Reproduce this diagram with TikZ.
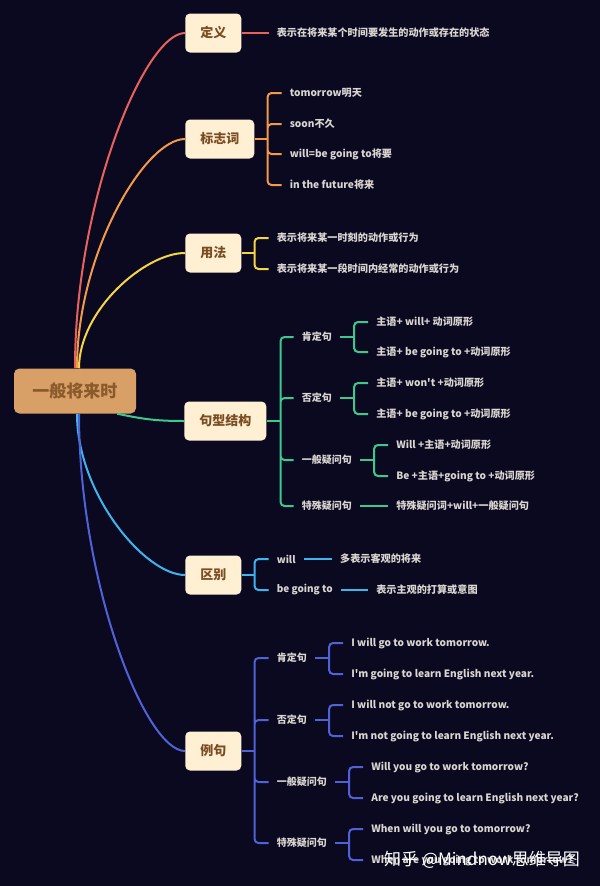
\documentclass[tikz,border=0pt]{standalone}
\usepackage{fontspec}
\setmainfont{Noto Sans CJK SC}[Ligatures=TeXOff]
\usepackage{xcolor}
\usetikzlibrary{calc}
\definecolor{bg}{HTML}{0A0920}
\definecolor{cred}{HTML}{E8615A}
\definecolor{corange}{HTML}{F2994A}
\definecolor{cyellow}{HTML}{F5D547}
\definecolor{cgreen}{HTML}{3DC98E}
\definecolor{ccyan}{HTML}{3FB4EE}
\definecolor{cblue}{HTML}{5062D8}
\definecolor{boxfill}{HTML}{FFF0D4}
\definecolor{boxtext}{HTML}{7A4C22}
\definecolor{rootfill}{HTML}{D8A066}
\definecolor{roottext}{HTML}{8A5A2C}
\definecolor{leaftext}{HTML}{DAD5D0}

\begin{document}
\begin{tikzpicture}[x=0.75pt,y=-0.75pt,
  rootbox/.style={fill=rootfill,rounded corners=4pt,minimum width=91.5pt,
    minimum height=33.75pt,text=roottext,font=\bfseries\fontsize{12.75}{14}\selectfont},
  topic/.style={fill=boxfill,rounded corners=3.5pt,anchor=west,minimum height=29.25pt,
    inner xsep=11.25pt,text=boxtext,font=\bfseries\fontsize{9.75}{11}\selectfont},
  leaf/.style={anchor=west,inner xsep=6pt,inner ysep=1pt,text=leaftext,
    font=\bfseries\fontsize{7.6}{9}\selectfont},
  sub/.style={leaf,font=\bfseries\fontsize{7.5}{9}\selectfont},
  curve/.style={draw=#1,line width=1.5pt},
  link/.style={draw=#1,line width=1.5pt,rounded corners=3pt}
]
\fill[bg] (0,0) rectangle (600,886);
\useasboundingbox (0,0) rectangle (600,886);

% centre and main topics
\node[rootbox] (root) at (75,391) {一般将来时};
\node[topic] (def) at (185,33) {定义};
\node[topic] (sign) at (185,139) {标志词};
\node[topic] (usage) at (185,253) {用法};
\node[topic] (struct) at (184,421) {句型结构};
\node[topic] (diff) at (185,575) {区别};
\node[topic] (ex) at (185,751) {例句};

\draw[curve=cred] (root.north) .. controls +(0,-168) and +(-40,0) .. (def.west);
\draw[curve=corange] ($(root.north)+(2,0)$) .. controls +(0,-115) and +(-40,0) .. (sign.west);
\draw[curve=cyellow] ($(root.north)+(4,0)$) .. controls +(0,-58) and +(-40,0) .. (usage.west);
\draw[curve=cgreen] ($(root.south east)+(-19,0)$) .. controls +(25,5) and +(-30,0) .. (struct.west);
\draw[curve=ccyan] ($(root.south)+(2,0)$) .. controls +(0,80) and +(-40,0) .. (diff.west);
\draw[curve=cblue] ($(root.south)+(4,0)$) .. controls +(0,168) and +(-40,0) .. (ex.west);

% 定义
\node[leaf] (def1) at ($(def.east)+(27,0)$) {表示在将来某个时间要发生的动作或存在的状态};
\draw[link=cred] (def.east) -- (def1.west);

% 标志词
\node[leaf] (sign1) at ($(sign.east)+(27,-46)$) {tomorrow明天};
\node[leaf] (sign2) at ($(sign.east)+(27,-15)$) {soon不久};
\node[leaf] (sign3) at ($(sign.east)+(27,15)$) {will=be going to将要};
\node[leaf] (sign4) at ($(sign.east)+(27,46)$) {in the future将来};
\coordinate (signt) at ($(sign.east)+(13,0)$);
\draw[link=corange] (sign.east) -- (signt);
\draw[link=corange] (signt) |- (sign1.west) (signt) |- (sign2.west)
  (signt) |- (sign3.west) (signt) |- (sign4.west);

% 用法
\node[leaf] (use1) at ($(usage.east)+(27,-15)$) {表示将来某一时刻的动作或行为};
\node[leaf] (use2) at ($(usage.east)+(27,16)$) {表示将来某一段时间内经常的动作或行为};
\coordinate (uset) at ($(usage.east)+(13,0)$);
\draw[link=cyellow] (usage.east) -- (uset);
\draw[link=cyellow] (uset) |- (use1.west) (uset) |- (use2.west);

% 句型结构
\node[sub] (spos) at ($(struct.east)+(27,-84)$) {肯定句};
\node[sub] (sneg) at ($(struct.east)+(27,-23)$) {否定句};
\node[sub] (sgen) at ($(struct.east)+(27,39)$) {一般疑问句};
\node[sub] (sspe) at ($(struct.east)+(27,85)$) {特殊疑问句};
\coordinate (structt) at ($(struct.east)+(14,0)$);
\draw[link=cgreen] (struct.east) -- (structt);
\draw[link=cgreen] (structt) |- (spos.west) (structt) |- (sneg.west)
  (structt) |- (sgen.west) (structt) |- (sspe.west);

\node[leaf] (spos1) at ($(spos.east)+(28,-15)$) {主语+ will+ 动词原形};
\node[leaf] (spos2) at ($(spos.east)+(28,15)$) {主语+ be going to +动词原形};
\coordinate (spost) at ($(spos.east)+(14,0)$);
\draw[link=cgreen] (spos.east) -- (spost);
\draw[link=cgreen] (spost) |- (spos1.west) (spost) |- (spos2.west);

\node[leaf] (sneg1) at ($(sneg.east)+(28,-15)$) {主语+ won't +动词原形};
\node[leaf] (sneg2) at ($(sneg.east)+(28,16)$) {主语+ be going to +动词原形};
\coordinate (snegt) at ($(sneg.east)+(14,0)$);
\draw[link=cgreen] (sneg.east) -- (snegt);
\draw[link=cgreen] (snegt) |- (sneg1.west) (snegt) |- (sneg2.west);

\node[leaf] (sgen1) at ($(sgen.east)+(28,-15)$) {Will +主语+动词原形};
\node[leaf] (sgen2) at ($(sgen.east)+(28,16)$) {Be +主语+going to +动词原形};
\coordinate (sgent) at ($(sgen.east)+(14,0)$);
\draw[link=cgreen] (sgen.east) -- (sgent);
\draw[link=cgreen] (sgent) |- (sgen1.west) (sgent) |- (sgen2.west);

\node[leaf] (sspe1) at ($(sspe.east)+(28,0)$) {特殊疑问词+will+一般疑问句};
\draw[link=cgreen] (sspe.east) -- (sspe1.west);

% 区别
\node[sub] (dwill) at ($(diff.east)+(27,-16)$) {will};
\node[sub] (dgoing) at ($(diff.east)+(27,15)$) {be going to};
\coordinate (difft) at ($(diff.east)+(13,0)$);
\draw[link=ccyan] (diff.east) -- (difft);
\draw[link=ccyan] (difft) |- (dwill.west) (difft) |- (dgoing.west);
\node[leaf] (dwill1) at ($(dwill.east)+(28,0)$) {多表示客观的将来};
\node[leaf] (dgoing1) at ($(dgoing.east)+(27,0)$) {表示主观的打算或意图};
\draw[link=ccyan] (dwill.east) -- (dwill1.west);
\draw[link=ccyan] (dgoing.east) -- (dgoing1.west);

% 例句
\node[sub] (epos) at ($(ex.east)+(27,-93)$) {肯定句};
\node[sub] (eneg) at ($(ex.east)+(27,-31)$) {否定句};
\node[sub] (egen) at ($(ex.east)+(27,31)$) {一般疑问句};
\node[sub] (espe) at ($(ex.east)+(27,92)$) {特殊疑问句};
\coordinate (ext) at ($(ex.east)+(13,0)$);
\draw[link=cblue] (ex.east) -- (ext);
\draw[link=cblue] (ext) |- (epos.west) (ext) |- (eneg.west)
  (ext) |- (egen.west) (ext) |- (espe.west);

\node[leaf] (epos1) at ($(epos.east)+(28,-15)$) {I will go to work tomorrow.};
\node[leaf] (epos2) at ($(epos.east)+(28,16)$) {I'm going to learn English next year.};
\coordinate (epost) at ($(epos.east)+(14,0)$);
\draw[link=cblue] (epos.east) -- (epost);
\draw[link=cblue] (epost) |- (epos1.west) (epost) |- (epos2.west);

\node[leaf] (eneg1) at ($(eneg.east)+(28,-15)$) {I will not go to work tomorrow.};
\node[leaf] (eneg2) at ($(eneg.east)+(28,16)$) {I'm not going to learn English next year.};
\coordinate (enegt) at ($(eneg.east)+(14,0)$);
\draw[link=cblue] (eneg.east) -- (enegt);
\draw[link=cblue] (enegt) |- (eneg1.west) (enegt) |- (eneg2.west);

\node[leaf] (egen1) at ($(egen.east)+(28,-15)$) {Will you go to work tomorrow?};
\node[leaf] (egen2) at ($(egen.east)+(28,16)$) {Are you going to learn English next year?};
\coordinate (egent) at ($(egen.east)+(14,0)$);
\draw[link=cblue] (egen.east) -- (egent);
\draw[link=cblue] (egent) |- (egen1.west) (egent) |- (egen2.west);

\node[leaf] (espe1) at ($(espe.east)+(28,-14)$) {When will you go to tomorrow?};
\node[leaf] (espe2) at ($(espe.east)+(28,17)$) {When are you going to work tomorrow?};
\coordinate (espet) at ($(espe.east)+(14,0)$);
\draw[link=cblue] (espe.east) -- (espet);
\draw[link=cblue] (espet) |- (espe1.west) (espet) |- (espe2.west);

% watermark
\node[text=white,font=\fontsize{12.75}{14}\selectfont] (wm) at (482,860) {知乎 @Mindnow思维导图};
\end{tikzpicture}
\end{document}
